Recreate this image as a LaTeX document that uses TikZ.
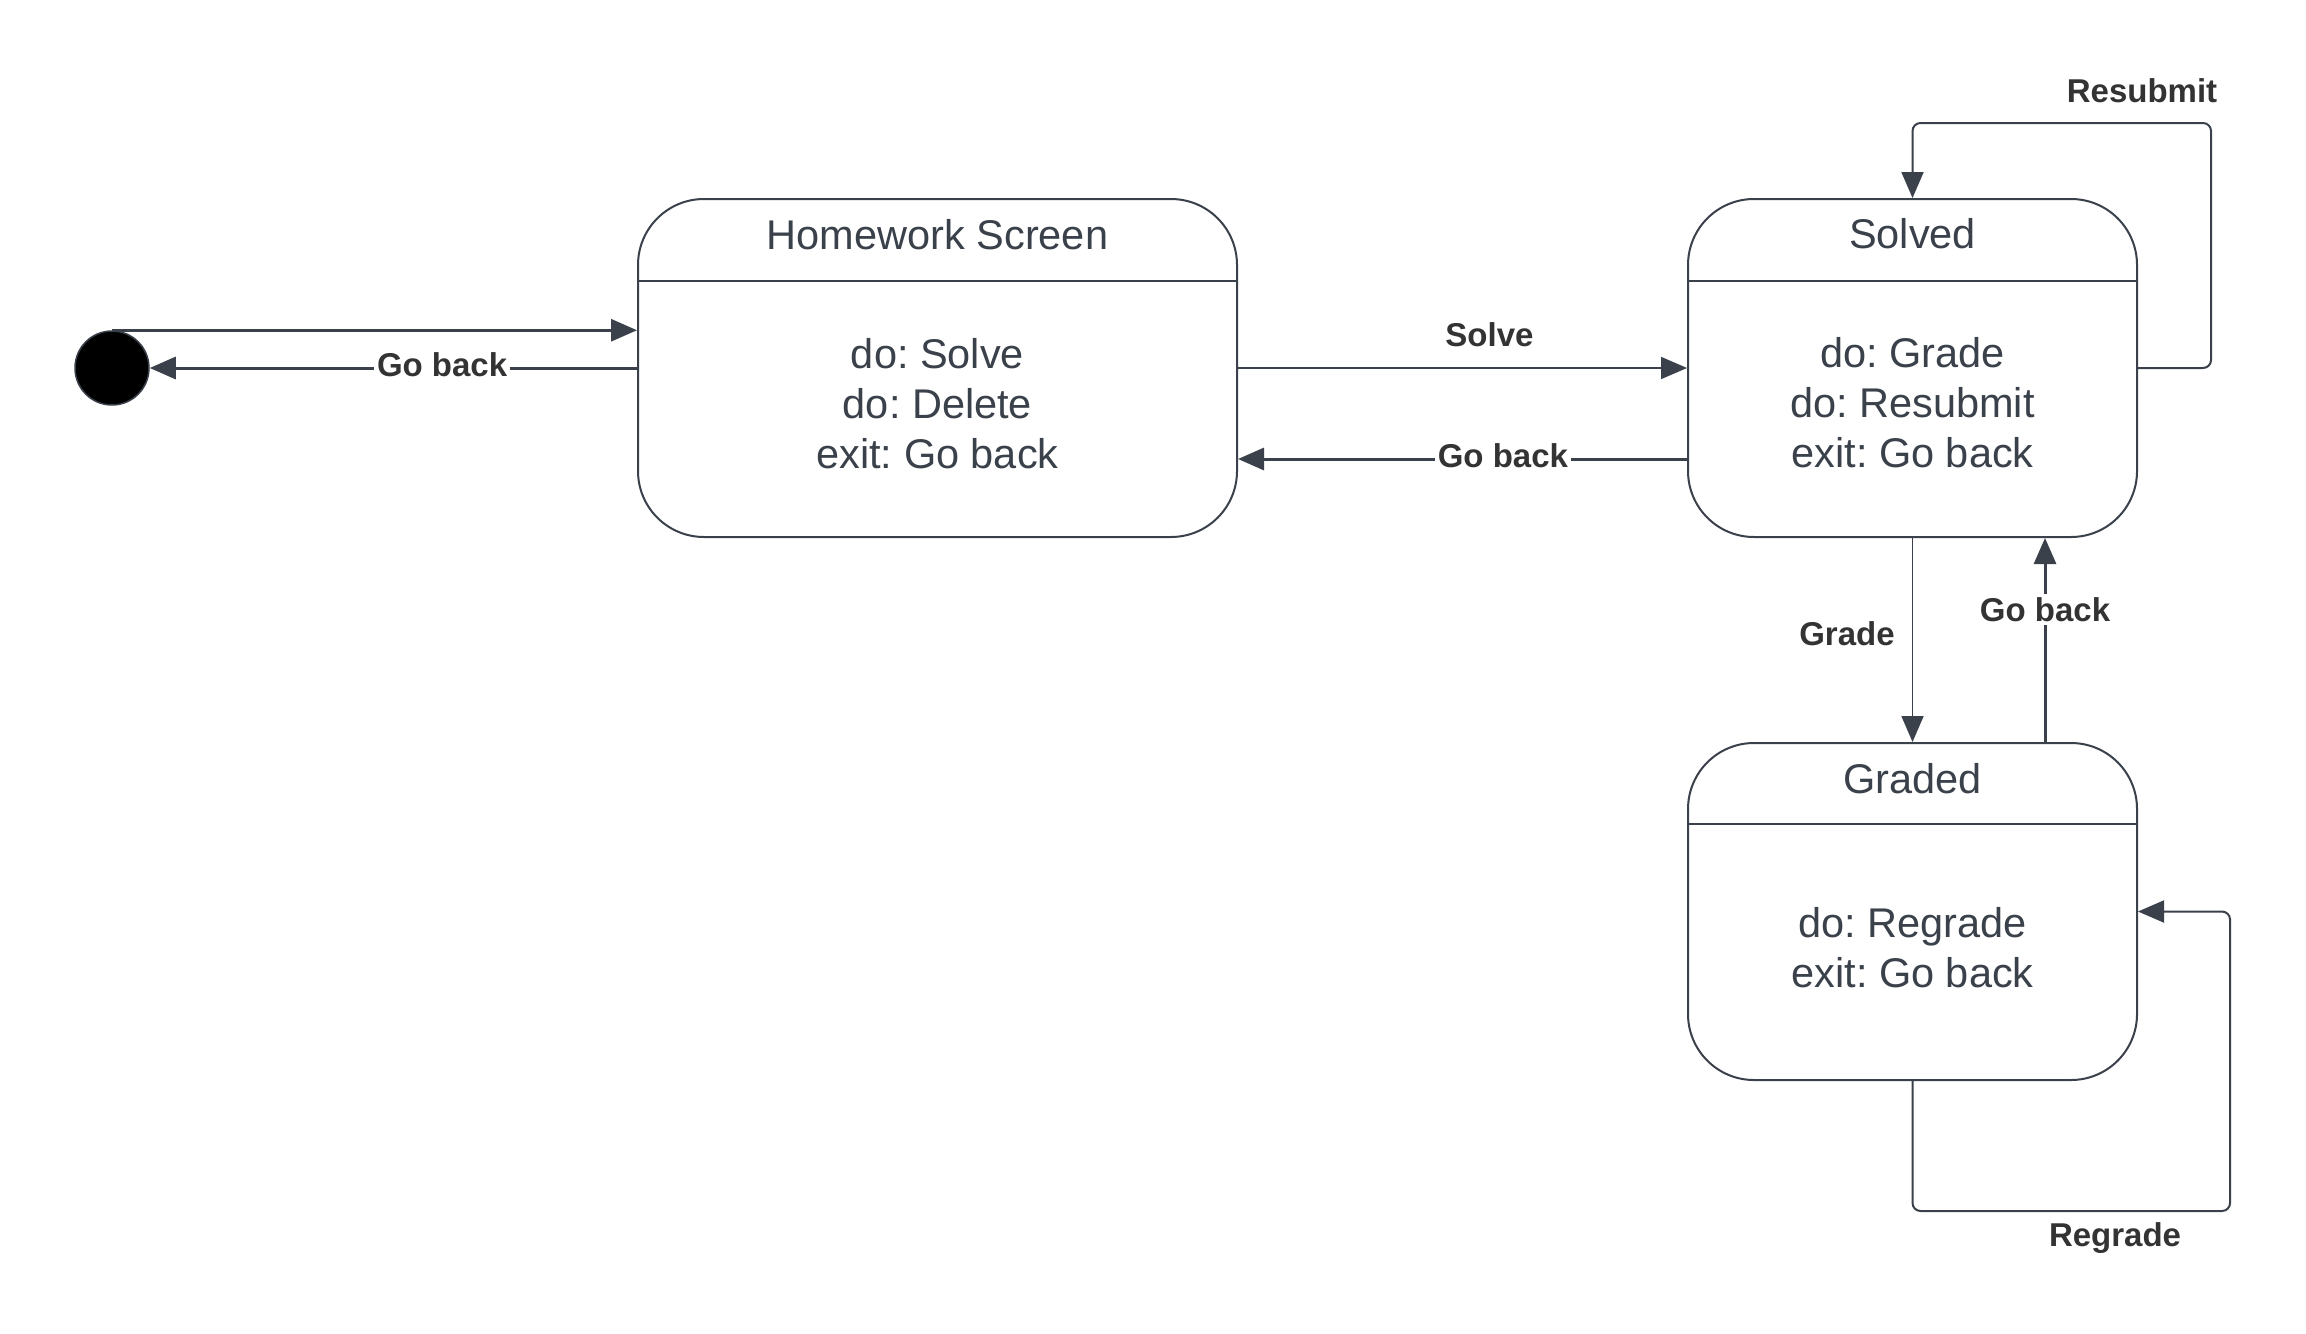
\documentclass[tikz,border=0pt]{standalone}
\usepackage{fontspec}
\setmainfont{Liberation Sans}
\usetikzlibrary{arrows.meta}
\definecolor{ink}{RGB}{58,65,74}
\definecolor{lbl}{RGB}{51,51,51}
\frenchspacing
\tikzset{
  statebox/.style={draw=ink, line width=2pt, rounded corners=66pt, fill=white},
  divider/.style={draw=ink, line width=2.5pt},
  titletext/.style={text=ink, font=\frenchspacing\fontsize{41.5}{50}\selectfont, inner sep=0pt},
  bodytext/.style={text=ink, font=\frenchspacing\fontsize{41.5}{50}\selectfont, align=center, inner sep=0pt},
  edgelbl/.style={text=lbl, font=\fontsize{33}{39}\selectfont\bfseries, inner sep=3pt},
  conn/.style={draw=ink, line width=1.8pt, -{Triangle[length=26pt,width=22pt]}},
  thickconn/.style={draw=ink, line width=3pt, -{Triangle[length=26pt,width=22pt]}},
  loopconn/.style={draw=ink, line width=2pt, rounded corners=8pt, -{Triangle[length=26pt,width=22pt]}},
}
\begin{document}
\begin{tikzpicture}[x=1pt,y=-1pt]
\useasboundingbox[fill=white] (0,0) rectangle (2306,1333);

% states
\node[statebox, minimum width=599pt, minimum height=338pt] (hs) at (937.5,368) {};
\node[statebox, minimum width=449pt, minimum height=338pt] (sv) at (1912.5,368) {};
\node[statebox, minimum width=449pt, minimum height=337pt] (gr) at (1912.5,911.5) {};

% dividers
\draw[divider] ([yshift=-83pt]hs.north west) -- ([yshift=-83pt]hs.north east);
\draw[divider] ([yshift=-83pt]sv.north west) -- ([yshift=-83pt]sv.north east);
\draw[divider] ([yshift=-82pt]gr.north west) -- ([yshift=-82pt]gr.north east);

% titles
\node[titletext] (hst) at (937.5,235) {Homework Screen};
\node[titletext] (svt) at (1912.5,234) {Solved};
\node[titletext] (grt) at (1912.5,779) {Graded};

% bodies
\node[bodytext] (hsb) at (937.5,404) {do: Solve\\do: Delete\\exit: Go back};
\node[bodytext] (svb) at (1912.5,403) {do: Grade\\do: Resubmit\\exit: Go back};
\node[bodytext] (grb) at (1912.5,948) {do: Regrade\\exit: Go back};

% initial state
\node[circle, fill=black, draw=ink, line width=1.5pt, minimum size=74pt, inner sep=0pt] (init) at (112,368) {};

% connectors
\draw[thickconn] (init.north) -- (init.north -| hs.west);
\draw[thickconn] (hs.west) -- (init.east)
  node[edgelbl, fill=white, pos=0.40, yshift=3pt] (l1) {Go back};

\draw[conn] (hs.east) -- (sv.west)
  node[edgelbl, pos=0.56, above=17pt] (l2) {Solve};
\draw[thickconn] ([yshift=-91pt]sv.west) -- ([yshift=-91pt]hs.east)
  node[edgelbl, fill=white, pos=0.41, yshift=3pt] (l3) {Go back};

\coordinate (r1) at (2211,123);
\draw[loopconn] (sv.east) -| (r1) -| (sv.north);
\node[edgelbl] (l4) at (2142,91) {Resubmit};

\draw[conn] (sv.south) -- (gr.north)
  node[edgelbl, pos=0.47, left=14pt] (l5) {Grade};
\draw[thickconn] ([xshift=132.5pt]gr.north) -- ([xshift=132.5pt]sv.south)
  node[edgelbl, fill=white, pos=0.65] (l6) {Go back};

\coordinate (g1) at (2230,1211);
\draw[loopconn] (gr.south) |- (g1) |- (gr.east);
\node[edgelbl] (l7) at (2115,1238) {Regrade};
\end{tikzpicture}
\end{document}
